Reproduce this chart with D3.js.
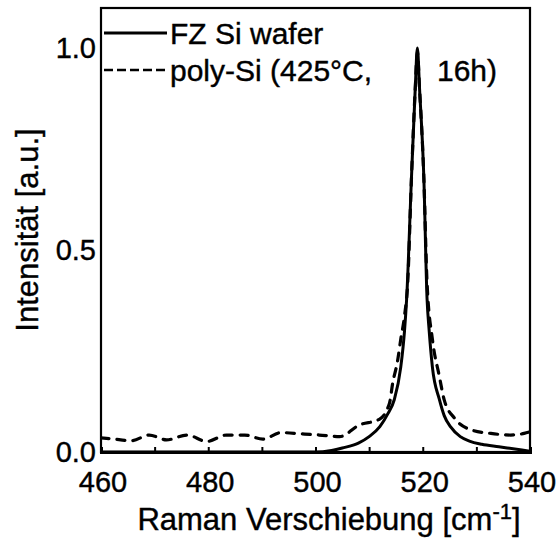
<!DOCTYPE html>
<html>
<head>
<meta charset="utf-8">
<script src="https://cdn.jsdelivr.net/npm/d3@7"></script>
<style>
  html, body { margin: 0; padding: 0; background: #fff; }
  svg { display: block; }
  text { font-family: "Liberation Sans", Arial, sans-serif; fill: #000; stroke: #000; stroke-width: 0.4px; }
</style>
</head>
<body>
<svg id="chart" width="557" height="544"></svg>
<script>
// ---- data ----
const fzShift = [460, 470, 480, 490, 500, 503, 505, 508, 510, 512, 513.5, 514.7, 515.9, 516.6, 517.0, 517.9, 518.6, 519, 519.4, 520.2, 520.8, 521.2, 521.8, 523.1, 524, 525.2, 527, 528.7, 531, 534.2, 538.5, 540];
const fzIntensity = [0.0, 0.0, 0.0, 0.0, 0.0, 0.004, 0.01, 0.022, 0.038, 0.063, 0.095, 0.13, 0.21, 0.30, 0.38, 0.68, 0.90, 1.0, 0.90, 0.68, 0.38, 0.30, 0.21, 0.13, 0.09, 0.062, 0.038, 0.027, 0.019, 0.013, 0.005, 0.002];

const polyShift = [460, 462.3, 465.7, 469, 472.2, 476.1, 479.7, 483.4, 486.8, 490.2, 493.6, 497.3, 500.7, 504.5, 508.2, 511.9, 513.8, 514.4, 515.3, 515.9, 516.6, 517.2, 517.9, 518.6, 519, 519.4, 520.2, 520.8, 521.8, 523.1, 524, 525.9, 529, 532.7, 536.4, 538.9, 540];
const polyIntensity = [0.035, 0.032, 0.028, 0.042, 0.03, 0.042, 0.026, 0.042, 0.042, 0.032, 0.048, 0.045, 0.042, 0.038, 0.067, 0.081, 0.121, 0.171, 0.225, 0.279, 0.337, 0.42, 0.68, 0.90, 0.99, 0.90, 0.68, 0.42, 0.279, 0.187, 0.129, 0.084, 0.055, 0.046, 0.042, 0.046, 0.05];

const xTicks = [460, 470, 480, 490, 500, 510, 520, 530, 540];
const xTickLabels = [460, 480, 500, 520, 540];
const yTickLabels = [0.0, 0.5, 1.0];
const seriesNames = ["FZ Si wafer", "poly-Si (425°C,", "16h)"];

// ---- layout ----
const svg = d3.select("#chart");
const pLeft = 101, pRight = 530, pTop = 8, pBottom = 452;

const x = d3.scaleLinear().domain([460, 540]).range([pLeft, pRight]);
const y = d3.scaleLinear().domain([0, 1.1]).range([pBottom, pBottom - 1.1 * 404]);

svg.append("clipPath").attr("id", "plotclip")
  .append("rect").attr("x", pLeft).attr("y", pTop).attr("width", pRight - pLeft).attr("height", pBottom - pTop);

const line = d3.line().x(d => x(d[0])).y(d => y(d[1])).curve(d3.curveMonotoneX);

const fzData = fzShift.map((v, i) => [v, fzIntensity[i]]);
const polyData = polyShift.map((v, i) => [v, polyIntensity[i]]);

const g = svg.append("g").attr("clip-path", "url(#plotclip)");
g.append("path").datum(polyData).attr("d", line)
  .attr("fill", "none").attr("stroke", "#000").attr("stroke-width", 3.2)
  .attr("stroke-dasharray", "8,8").attr("stroke-linecap", "round");
g.append("path").datum(fzData).attr("d", line)
  .attr("fill", "none").attr("stroke", "#000").attr("stroke-width", 3);

// frame
svg.append("rect").attr("x", pLeft).attr("y", pTop).attr("width", pRight - pLeft).attr("height", pBottom - pTop)
  .attr("fill", "none").attr("stroke", "#000").attr("stroke-width", 2.2);

// x axis (ticks pointing inward)
const xAxis = d3.axisBottom(x).tickValues(xTicks).tickSize(-5).tickFormat("");
const xg = svg.append("g").attr("transform", `translate(0,${pBottom})`).call(xAxis);
xg.select(".domain").attr("stroke", "#000").attr("stroke-width", 3);
xg.selectAll(".tick line").attr("stroke", "#000").attr("stroke-width", 2);

svg.append("g").selectAll("text").data(xTickLabels).join("text")
  .attr("x", d => x(d) + 2).attr("y", 492)
  .attr("text-anchor", "middle").attr("font-size", 29)
  .text(d => d);

// y axis labels
svg.append("g").selectAll("text").data(yTickLabels).join("text")
  .attr("x", 96).attr("y", d => y(d) + 10)
  .attr("text-anchor", "end").attr("font-size", 29)
  .text(d => d.toFixed(1));

// axis titles
const xt = svg.append("text").attr("x", 329).attr("y", 530)
  .attr("text-anchor", "middle").attr("font-size", 31);
xt.append("tspan").text("Raman Verschiebung [cm");
xt.append("tspan").attr("font-size", 22).attr("dy", -11).text("-1");
xt.append("tspan").attr("dy", 11).text("]");

svg.append("text").attr("transform", "translate(38,230) rotate(-90)")
  .attr("text-anchor", "middle").attr("font-size", 31)
  .text("Intensität [a.u.]");

// legend
svg.append("line").attr("x1", 104).attr("x2", 167).attr("y1", 33).attr("y2", 33)
  .attr("stroke", "#000").attr("stroke-width", 3);
svg.append("text").attr("x", 170).attr("y", 44).attr("font-size", 30).text(seriesNames[0]);

svg.append("line").attr("x1", 104).attr("x2", 166).attr("y1", 70).attr("y2", 70)
  .attr("stroke", "#000").attr("stroke-width", 2.6).attr("stroke-dasharray", "9,4");
svg.append("text").attr("x", 170).attr("y", 81).attr("font-size", 30).text(seriesNames[1]);
svg.append("text").attr("x", 437).attr("y", 81).attr("font-size", 30).text(seriesNames[2]);
</script>
</body>
</html>
